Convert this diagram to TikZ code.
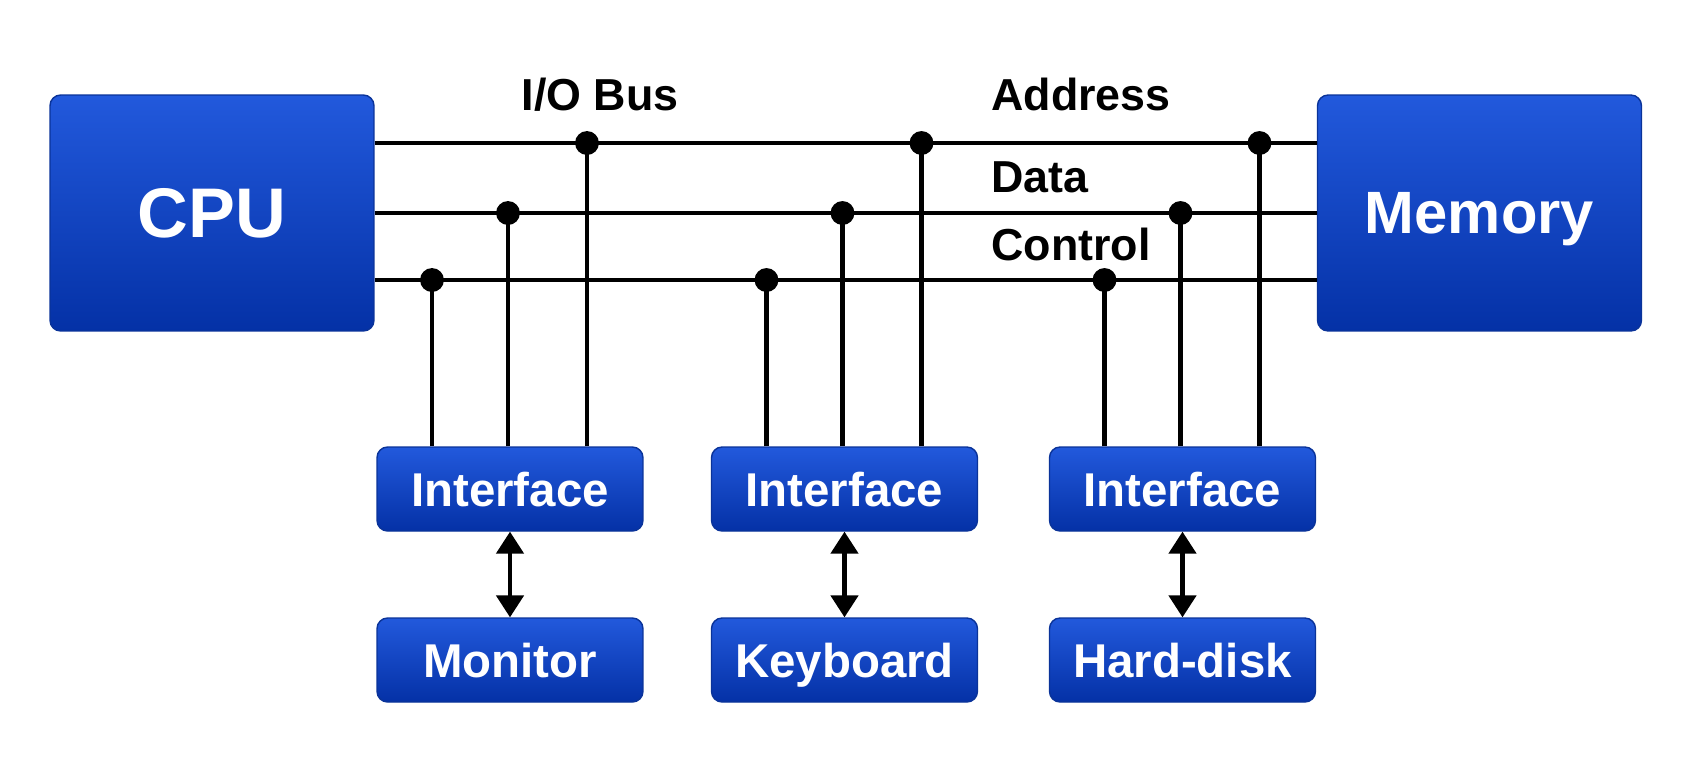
\documentclass[tikz,border=0pt]{standalone}
\usepackage{fontspec}
\setmainfont{Liberation Sans}
\usetikzlibrary{arrows.meta,calc,positioning}
\definecolor{boxtop}{HTML}{2259DC}
\definecolor{boxbot}{HTML}{0431A6}
\definecolor{boxline}{HTML}{0A3399}

\begin{document}
\begin{tikzpicture}[x=0.02cm, y=-0.02cm,
  unit/.style={draw=boxline, line width=0.8pt, rounded corners=6pt,
    top color=boxtop, bottom color=boxbot, text=white, font=\bfseries,
    text depth=0pt},
  bigunit/.style={unit, minimum width=6.48cm, minimum height=4.72cm},
  smallunit/.style={unit, minimum width=5.32cm, minimum height=1.68cm,
    font=\fontsize{27}{30}\selectfont\bfseries},
  bus/.style={line width=2.3pt},
  lbl/.style={font=\fontsize{25.5}{28}\selectfont\bfseries, inner sep=0pt},
  dbl/.style={line width=2.3pt, {Triangle[width=15.5pt,length=12.5pt]}-{Triangle[width=15.5pt,length=12.5pt]}}]
\useasboundingbox (0,0) rectangle (1695,769);
% CPU and memory
\node[bigunit, font=\fontsize{40}{44}\selectfont\bfseries] (cpu) at (212,213) {CPU};
\node[bigunit, font=\fontsize{34}{38}\selectfont\bfseries] (mem) at (1479.5,213) {Memory};
% bus heights
\coordinate (addr) at (0,143);
\coordinate (data) at (0,213);
\coordinate (ctrl) at (0,280);
\draw[bus] (cpu.east |- addr) -- (mem.west |- addr);
\draw[bus] (cpu.east |- data) -- (mem.west |- data);
\draw[bus] (cpu.east |- ctrl) -- (mem.west |- ctrl);
% bus labels
\node[lbl, anchor=base] (iobus) at (600,110) {I/O Bus};
\node[lbl, anchor=base west] (addrlbl) at (991,110) {Address};
\node[lbl, anchor=base west] (datalbl) at (991,192) {Data};
\node[lbl, anchor=base west] (ctrllbl) at (991,260) {Control};
% interfaces and devices
\node[smallunit] (if1) at (510,489) {Interface};
\node[smallunit] (if2) at (844.5,489) {Interface};
\node[smallunit] (if3) at (1182.5,489) {Interface};
\node[smallunit] (dev1) at (510,660) {Monitor};
\node[smallunit] (dev2) at (844.5,660) {Keyboard};
\node[smallunit] (dev3) at (1182.5,660) {Hard-disk};
% taps onto the bus
\foreach \i in {1,2,3}{
  \path ($(if\i.north)+(-78,0)$) coordinate (c\i)
        ($(if\i.north)+(-2,0)$) coordinate (d\i)
        ($(if\i.north)+(77,0)$) coordinate (a\i);
  \draw[bus] (c\i) -- (c\i |- ctrl);
  \draw[bus] (d\i) -- (d\i |- data);
  \draw[bus] (a\i) -- (a\i |- addr);
  \fill (c\i |- ctrl) circle (6.8pt);
  \fill (d\i |- data) circle (6.8pt);
  \fill (a\i |- addr) circle (6.8pt);
  \draw[dbl] (if\i.south) -- (dev\i.north);
}
\end{tikzpicture}
\end{document}
